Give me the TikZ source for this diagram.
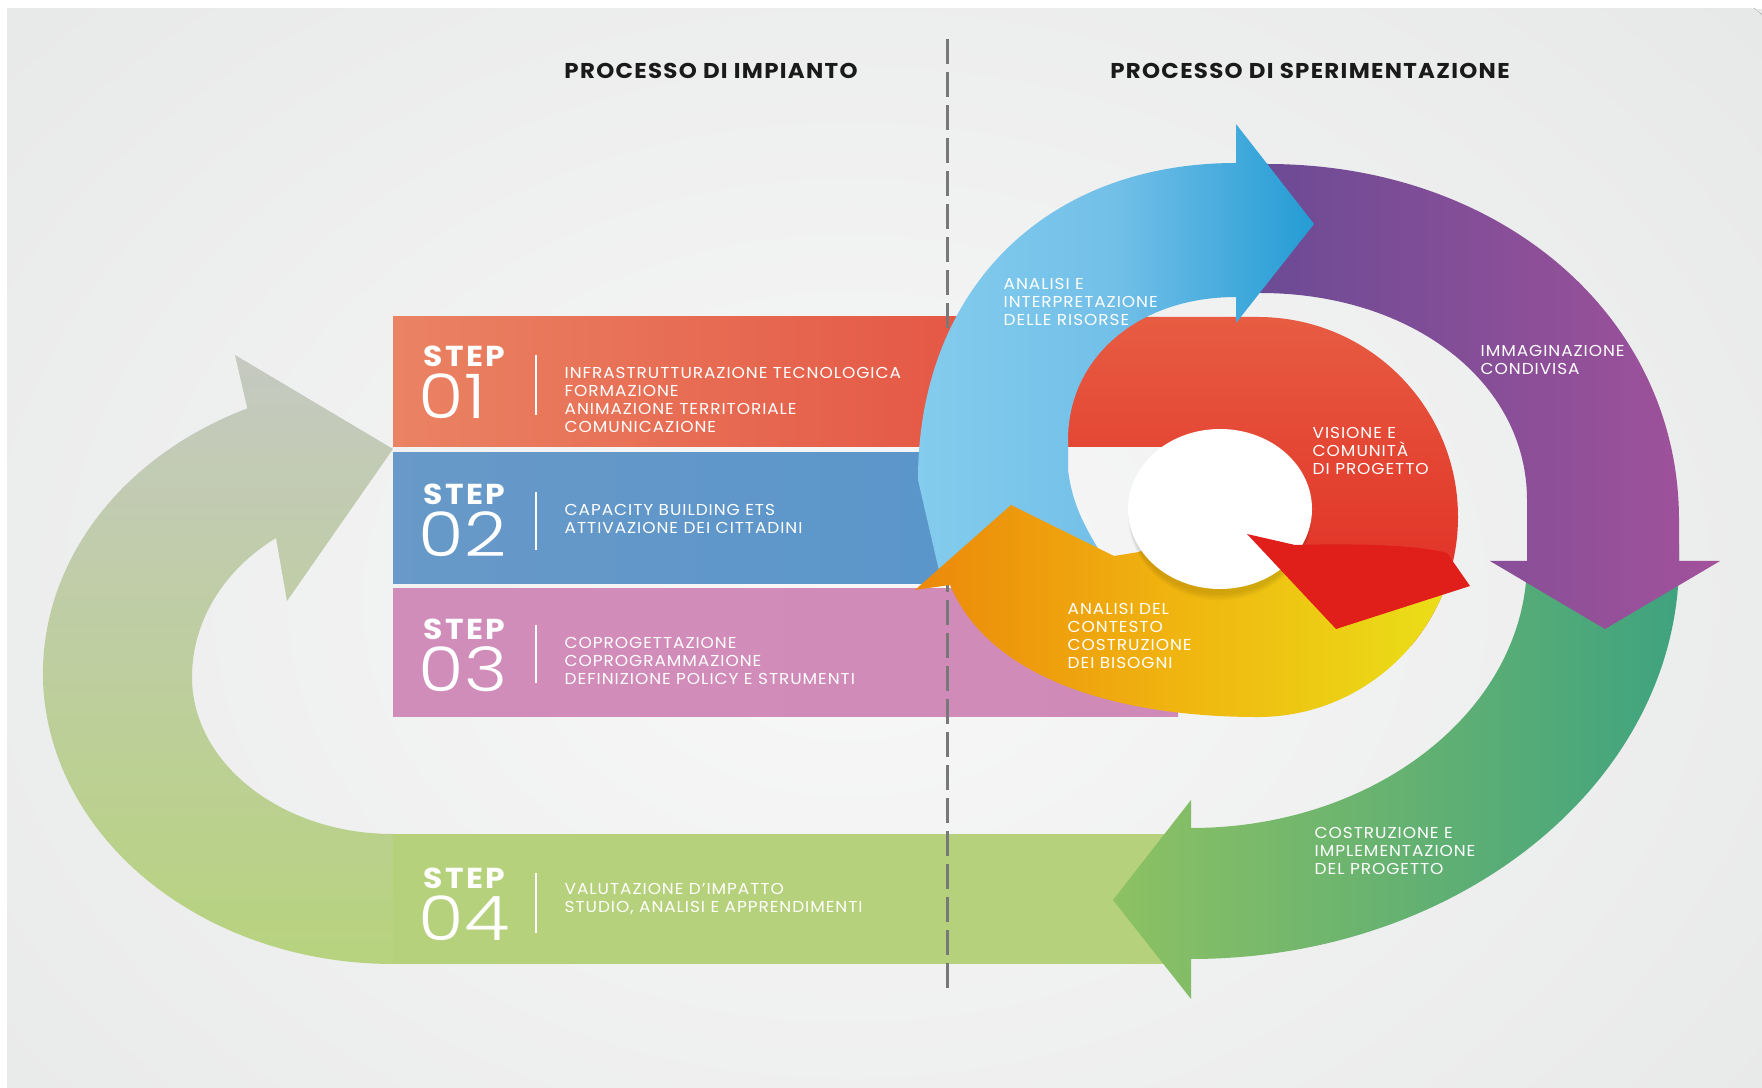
\documentclass[tikz,border=0pt]{standalone}
\usepackage{fontspec}
\setmainfont{Poppins}[FakeStretch=1.07, LetterSpace=6]
\IfFontExistsTF{Poppins Light}
  {\newfontfamily\thinfont{Poppins Light}[FakeStretch=1.2]}
  {\newfontfamily\thinfont{Poppins}[FakeStretch=1.2]}
\newfontfamily\stepfont{Poppins}[FakeStretch=1.09, LetterSpace=8]
\usepackage{tikz}
\usetikzlibrary{positioning}

\definecolor{bggray}{RGB}{231,232,232}
\definecolor{glow}{RGB}{248,248,248}
\definecolor{headink}{RGB}{26,26,26}
\definecolor{dashgray}{RGB}{120,120,120}
\definecolor{coralA}{RGB}{234,131,99}
\definecolor{coralB}{RGB}{228,84,66}
\definecolor{steelA}{RGB}{104,153,200}
\definecolor{steelB}{RGB}{90,150,203}
\definecolor{pinkA}{RGB}{209,141,186}
\definecolor{pinkB}{RGB}{208,138,184}
\definecolor{stepfour}{RGB}{182,209,123}
\definecolor{ugray}{RGB}{197,201,193}
\definecolor{ulime}{RGB}{183,211,126}
\definecolor{redA}{RGB}{231,92,66}
\definecolor{redB}{RGB}{224,40,32}
\definecolor{redhead}{RGB}{224,30,26}
\definecolor{orgA}{RGB}{236,136,10}
\definecolor{orgM}{RGB}{240,182,16}
\definecolor{orgB}{RGB}{234,224,24}
\definecolor{skyA}{RGB}{131,204,237}
\definecolor{skyM}{RGB}{114,191,232}
\definecolor{skyB}{RGB}{36,156,212}
\definecolor{plumA}{RGB}{104,74,148}
\definecolor{plumB}{RGB}{162,82,155}
\definecolor{leafA}{RGB}{141,193,99}
\definecolor{leafB}{RGB}{63,163,127}

\begin{document}
\begin{tikzpicture}[x=0.1mm, y=-0.1mm,
  heading/.style={font=\bfseries\fontsize{6.1}{7}\selectfont,
    text=headink, inner sep=0, anchor=north},
  steplbl/.style={font=\stepfont\bfseries\fontsize{8.2}{9}\selectfont,
    text=white, inner sep=0, anchor=north west},
  stepnum/.style={font=\thinfont\fontsize{17.5}{18}\selectfont, text=white, inner sep=0,
    below=0.6mm of #1.south west, anchor=north west, xshift=-0.5mm},
  steptxt/.style={font=\fontsize{4.5}{5.12}\selectfont,
    text=white, inner sep=0, anchor=north west, align=left},
  ringtxt/.style={steptxt},
  sepline/.style={white, line width=0.15mm},
  dashln/.style={dashgray, line width=0.3mm, dash pattern=on 2.5mm off 0.8mm}
]
\useasboundingbox (0,0) rectangle (1762,1088);
\fill[white] (0,0) rectangle (1762,1088);
\fill[bggray] (7,9) rectangle (1762,1088);
\begin{scope}
  \clip (7,9) rectangle (1762,1088);
  \fill[inner color=glow, outer color=bggray] (850,600) ellipse [x radius=1200, y radius=900];
\end{scope}

% headings
\node[heading] (hImp) at (711,63) {PROCESSO DI IMPIANTO};
\node[heading] (hSper) at (1310,63) {PROCESSO DI SPERIMENTAZIONE};

% return arrow and step 4 band
\shade[top color=ugray, bottom color=ulime]
  (276,538) -- (287,601) -- (393,449) -- (235,355) -- (247.3,408.4)
  arc[start angle=-114.6, end angle=-270, x radius=350, y radius=291]
  -- (400,964) -- (400,834) -- (393,834)
  arc[start angle=90, end angle=180, x radius=201, y radius=157]
  arc[start angle=180, end angle=234.4, x radius=201, y radius=171]
  -- cycle;
\fill[stepfour] (393,834) rectangle (1190,964);

% step bands
\shade[left color=coralA, right color=coralB] (393,317) rectangle (1010,447);
\shade[left color=steelA, right color=steelB] (393,453) rectangle (960,584);
\shade[left color=pinkA, right color=pinkB] (393,589) rectangle (1178,717);

\draw[dashln] (947,39) -- (947,989);

% inner red ring
\shade[top color=redA, bottom color=redB]
  (1000,447) -- (1000,317) -- (1258,317)
  arc[start angle=-90, end angle=40, radius=200]
  -- (1258,517) -- (1258,447) -- cycle;

% outer ring: green, purple, blue
\shade[left color=leafA, right color=leafB]
  (1527,545) -- (1679,545) -- (1679,561)
  .. controls (1679,780.8) and (1460.5,959) .. (1191,959)
  -- (1191,999) -- (1113,900) -- (1191,800) -- (1191,828)
  .. controls (1376.6,828) and (1527,708.5) .. (1527,561) -- cycle;
\shade[left color=plumA, right color=plumB]
  (1225,164) -- (1267,164)
  .. controls (1501.8,164) and (1679,317.1) .. (1679,520)
  -- (1679,561) -- (1720,561) -- (1605,629) -- (1490,561) -- (1527,561) -- (1527,500)
  .. controls (1527,382) and (1412.2,293) .. (1260,293)
  -- (1225,293) -- cycle;
\shade[left color=skyA, right color=skyB, middle color=skyM]
  (940,575) -- (918,480)
  .. controls (918,290) and (1045,163) .. (1236,163)
  -- (1236,124) -- (1314,224) -- (1236,323) -- (1236,297)
  .. controls (1138.6,297) and (1068,357) .. (1068,440)
  -- (1068,470) .. controls (1072,500) and (1080,520) .. (1105,560) -- cycle;

% inner yellow arrow
\shade[left color=orgA, right color=orgB, middle color=orgM]
  (1139,552) -- (1160,540) -- (1295,548) -- (1452.1,565.4)
  arc[start angle=14, end angle=90, radius=200]
  .. controls (1120,717) and (990,680) .. (950,585)
  -- (915,590) -- (1011,505) -- (1114,556) -- cycle;

% centre
\foreach \k in {1,...,5}
  \fill[black, opacity=0.025] (1220,515) ellipse [x radius=90+0.4*\k, y radius=78+1.5*\k];
\fill[white] (1220,509) ellipse [x radius=92, y radius=80];
\fill[redhead] (1247,534) -- (1295,545) .. controls (1370,543) and (1420,546) .. (1447,553)
  -- (1470,586) -- (1336,629) -- cycle;

% step texts
\node[steplbl] (s1lbl) at (423,345) {STEP};
\node[stepnum=s1lbl] (s1num) {01};
\draw[sepline] (536,355) -- (536,415);
\node[steptxt] (s1txt) at (564,367) {INFRASTRUTTURAZIONE TECNOLOGICA\\FORMAZIONE\\ANIMAZIONE TERRITORIALE\\COMUNICAZIONE};

\node[steplbl] (s2lbl) at (423,483) {STEP};
\node[stepnum=s2lbl] (s2num) {02};
\draw[sepline] (536,492) -- (536,550);
\node[steptxt] (s2txt) at (564,504) {CAPACITY BUILDING ETS\\ATTIVAZIONE DEI CITTADINI};

\node[steplbl] (s3lbl) at (423,618) {STEP};
\node[stepnum=s3lbl] (s3num) {03};
\draw[sepline] (536,625) -- (536,683);
\node[steptxt] (s3txt) at (564,637) {COPROGETTAZIONE\\COPROGRAMMAZIONE\\DEFINIZIONE POLICY E STRUMENTI};

\node[steplbl] (s4lbl) at (423,867) {STEP};
\node[stepnum=s4lbl] (s4num) {04};
\draw[sepline] (536,873) -- (536,933);
\node[steptxt] (s4txt) at (564,883) {VALUTAZIONE D'IMPATTO\\STUDIO, ANALISI E APPRENDIMENTI};

% ring labels
\node[ringtxt] (rBlue) at (1003,278) {ANALISI E\\INTERPRETAZIONE\\DELLE RISORSE};
\node[ringtxt] (rPlum) at (1480,345) {IMMAGINAZIONE\\CONDIVISA};
\node[ringtxt] (rRed) at (1312,427) {VISIONE E\\COMUNITÀ\\DI PROGETTO};
\node[ringtxt] (rOrg) at (1067,603) {ANALISI DEL\\CONTESTO\\COSTRUZIONE\\DEI BISOGNI};
\node[ringtxt] (rLeaf) at (1314,827) {COSTRUZIONE E\\IMPLEMENTAZIONE\\DEL PROGETTO};
\end{tikzpicture}
\end{document}
